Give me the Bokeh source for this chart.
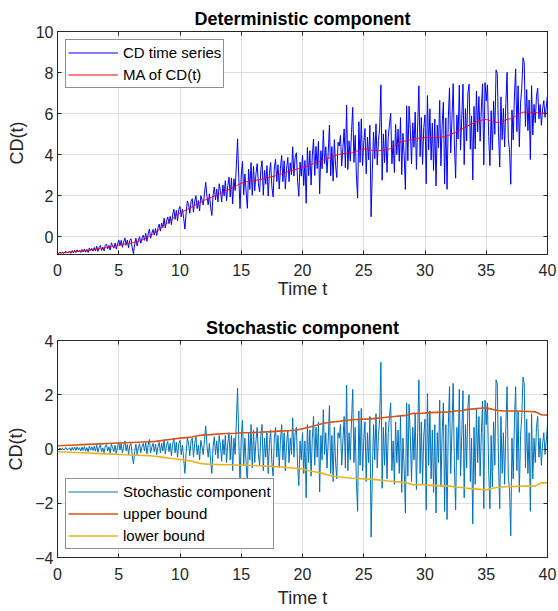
import numpy as np
from bokeh.plotting import figure
from bokeh.models import FixedTicker, LinearAxis, Legend, LegendItem, Range1d, CustomJSTickFormatter
from bokeh.layouts import column
from bokeh.embed import file_html
from bokeh.resources import INLINE

# ---------------- data ----------------
x_ticks = [0, 5, 10, 15, 20, 25, 30, 35, 40]
y_ticks_top = [0, 2, 4, 6, 8, 10]
y_ticks_bottom = [-4, -2, 0, 2, 4]

# time axis t = 0.0 ... 40.0, step 0.1
t = np.round(np.arange(401) * 0.1, 1)

# moving average of CD(t), one row per time unit (t = k.0 ... k.9), then t = 40
ma_rows = [
    [-0.80, -0.80, -0.79, -0.79, -0.78, -0.78, -0.77, -0.77, -0.76, -0.76],
    [-0.75, -0.75, -0.74, -0.74, -0.73, -0.73, -0.72, -0.72, -0.71, -0.70],
    [-0.70, -0.69, -0.69, -0.68, -0.67, -0.67, -0.66, -0.65, -0.65, -0.64],
    [-0.63, -0.62, -0.61, -0.60, -0.59, -0.58, -0.57, -0.56, -0.55, -0.54],
    [-0.53, -0.52, -0.51, -0.50, -0.49, -0.48, -0.46, -0.45, -0.44, -0.42],
    [-0.41, -0.40, -0.39, -0.38, -0.37, -0.36, -0.35, -0.34, -0.33, -0.32],
    [-0.31, -0.30, -0.28, -0.27, -0.25, -0.24, -0.22, -0.20, -0.18, -0.16],
    [-0.14, -0.11, -0.08, -0.05, -0.02, 0.02, 0.06, 0.10, 0.14, 0.18],
    [0.22, 0.27, 0.31, 0.36, 0.41, 0.46, 0.51, 0.55, 0.60, 0.64],
    [0.68, 0.73, 0.78, 0.83, 0.88, 0.93, 0.98, 1.03, 1.07, 1.11],
    [1.15, 1.18, 1.21, 1.24, 1.27, 1.30, 1.33, 1.36, 1.39, 1.42],
    [1.45, 1.49, 1.52, 1.55, 1.58, 1.62, 1.65, 1.68, 1.71, 1.75],
    [1.78, 1.80, 1.83, 1.85, 1.88, 1.90, 1.93, 1.95, 1.97, 2.00],
    [2.02, 2.05, 2.08, 2.11, 2.14, 2.17, 2.20, 2.23, 2.25, 2.28],
    [2.30, 2.33, 2.36, 2.39, 2.42, 2.45, 2.48, 2.52, 2.55, 2.57],
    [2.60, 2.62, 2.64, 2.65, 2.67, 2.68, 2.69, 2.70, 2.71, 2.72],
    [2.73, 2.74, 2.75, 2.76, 2.77, 2.78, 2.79, 2.80, 2.82, 2.83],
    [2.85, 2.86, 2.88, 2.89, 2.91, 2.92, 2.94, 2.95, 2.97, 2.98],
    [3.00, 3.02, 3.04, 3.06, 3.08, 3.10, 3.12, 3.14, 3.16, 3.18],
    [3.20, 3.22, 3.23, 3.25, 3.27, 3.29, 3.30, 3.32, 3.34, 3.35],
    [3.37, 3.39, 3.41, 3.43, 3.45, 3.47, 3.49, 3.52, 3.54, 3.56],
    [3.58, 3.60, 3.62, 3.64, 3.67, 3.69, 3.71, 3.73, 3.76, 3.78],
    [3.80, 3.82, 3.84, 3.87, 3.89, 3.91, 3.93, 3.96, 3.98, 4.00],
    [4.02, 4.03, 4.04, 4.05, 4.05, 4.06, 4.06, 4.07, 4.07, 4.08],
    [4.08, 4.10, 4.12, 4.14, 4.16, 4.18, 4.20, 4.22, 4.24, 4.26],
    [4.28, 4.27, 4.26, 4.25, 4.24, 4.23, 4.22, 4.21, 4.20, 4.20],
    [4.20, 4.20, 4.19, 4.19, 4.20, 4.20, 4.21, 4.21, 4.22, 4.23],
    [4.25, 4.28, 4.31, 4.35, 4.39, 4.43, 4.47, 4.50, 4.54, 4.57],
    [4.60, 4.62, 4.63, 4.65, 4.66, 4.68, 4.70, 4.71, 4.73, 4.74],
    [4.75, 4.76, 4.77, 4.78, 4.79, 4.80, 4.80, 4.81, 4.82, 4.82],
    [4.83, 4.83, 4.83, 4.83, 4.83, 4.83, 4.83, 4.83, 4.83, 4.83],
    [4.83, 4.84, 4.84, 4.85, 4.85, 4.86, 4.87, 4.89, 4.91, 4.93],
    [4.95, 4.98, 5.01, 5.04, 5.07, 5.10, 5.13, 5.16, 5.19, 5.22],
    [5.25, 5.28, 5.31, 5.34, 5.37, 5.40, 5.43, 5.46, 5.49, 5.52],
    [5.55, 5.57, 5.59, 5.61, 5.63, 5.65, 5.67, 5.69, 5.70, 5.71],
    [5.72, 5.70, 5.68, 5.66, 5.64, 5.62, 5.60, 5.59, 5.58, 5.57],
    [5.57, 5.59, 5.61, 5.63, 5.65, 5.67, 5.69, 5.71, 5.73, 5.74],
    [5.75, 5.78, 5.82, 5.85, 5.88, 5.92, 5.95, 5.98, 6.01, 6.04],
    [6.07, 6.07, 6.07, 6.07, 6.07, 6.06, 6.06, 6.06, 6.06, 6.05],
    [6.05, 6.05, 6.04, 6.04, 6.04, 6.03, 6.03, 6.03, 6.02, 6.02],
]
ma_last = 6.02

# stochastic component (CD - MA), one row per time unit, then t = 40
stoch_rows = [
    [0.02, -0.03, 0.03, -0.02, 0.04, -0.04, 0.02, 0.05, -0.03, 0.01],
    [0.04, -0.06, 0.06, -0.04, 0.07, -0.05, 0.08, -0.03, 0.05, -0.07],
    [0.07, -0.05, 0.09, -0.08, 0.05, -0.10, 0.11, -0.04, 0.08, -0.06],
    [0.10, -0.08, 0.14, -0.12, 0.07, 0.15, -0.10, 0.04, -0.14, 0.12],
    [0.17, -0.07, 0.08, -0.15, 0.19, 0.04, -0.10, 0.14, -0.17, 0.07],
    [0.25, -0.04, 0.21, -0.14, 0.10, 0.30, -0.07, 0.17, -0.21, 0.14],
    [0.21, -0.25, -0.55, -0.10, 0.18, -0.21, 0.04, 0.20, -0.14, 0.10],
    [0.21, -0.07, 0.25, -0.18, 0.14, 0.35, -0.14, 0.07, 0.21, -0.10],
    [0.18, -0.21, 0.10, 0.25, -0.14, 0.21, -0.07, 0.35, -0.18, 0.14],
    [0.28, -0.10, 0.21, -0.25, 0.18, 0.40, -0.14, 0.25, -0.30, 0.21],
    [0.32, -0.21, 0.14, -0.35, -0.90, -0.14, 0.40, 0.21, -0.25, 0.30],
    [0.40, -0.30, 0.21, 0.45, -0.21, 0.14, -0.40, 0.32, 0.07, -0.21],
    [0.35, 0.85, 0.14, -0.30, 0.21, -0.45, -0.90, 0.07, 0.45, -0.21],
    [0.30, -0.35, 0.50, 0.14, -0.45, 0.35, -0.21, 0.50, -0.50, 0.21],
    [0.60, -0.40, 0.50, -0.80, 0.40, -0.20, 1.00, 2.25, 0.30, -1.20],
    [0.40, 1.05, -0.60, 0.40, -0.50, -1.30, 0.60, -0.40, 0.90, -0.70],
    [0.70, -0.50, 0.30, 0.80, -0.20, -0.60, 0.50, 0.90, -0.80, 0.40],
    [-0.30, 0.60, -0.90, 0.20, 0.70, -0.50, -1.00, 0.40, 0.80, -0.30],
    [0.50, -0.70, 0.30, 0.90, -0.40, 0.60, -0.80, 0.20, 0.70, -0.50],
    [0.40, -0.20, 1.15, -0.30, 0.60, 0.80, -0.60, -1.35, 0.30, -0.40],
    [0.60, -0.90, 0.30, -1.80, 0.90, -0.50, 0.70, -1.00, 0.40, 1.20],
    [-0.60, 0.80, -0.30, 1.00, -1.58, 0.50, -0.40, 1.45, -0.20, 0.60],
    [-0.70, 0.30, 1.60, -0.90, 0.50, -1.20, 0.80, -0.50, -1.10, 0.60],
    [0.40, 0.90, -0.60, 0.30, 1.20, -0.70, 2.36, -0.80, 0.60, -0.40],
    [1.00, 2.20, -0.50, 0.80, -1.20, -2.30, 1.40, -0.60, 1.50, -0.80],
    [0.30, 1.00, -1.20, 0.60, -0.50, 1.20, -3.25, -1.00, 0.90, -0.40],
    [1.30, -0.70, 0.50, 1.10, 3.20, -1.45, 0.80, -0.60, 1.00, -1.10],
    [0.60, 1.20, 1.70, -0.80, 0.30, -1.30, 1.00, -0.50, 0.70, -0.90],
    [1.20, -1.60, 0.40, -0.70, -2.36, 1.70, -1.00, 1.65, 0.50, -1.20],
    [0.80, -0.40, 1.30, -1.50, 0.60, 2.55, -0.90, 1.00, -1.30, 0.50],
    [1.10, -2.25, 2.05, -0.60, 1.40, -1.10, 0.70, -1.60, 0.90, -2.36],
    [0.60, -0.50, 1.80, -1.40, 0.60, 1.70, -2.30, 0.90, -2.60, 0.80],
    [2.30, -0.90, 0.70, 2.42, -0.60, -2.25, 0.80, -0.40, 2.20, -1.00],
    [0.50, 2.15, -1.80, 0.90, -0.70, 1.60, 2.00, -1.20, 0.40, -2.76],
    [0.80, -1.30, 1.50, -0.50, 1.20, -1.00, 0.60, 1.76, -2.20, 1.80],
    [0.90, 1.70, -0.80, -2.20, 0.50, -1.40, 1.00, -0.60, 2.55, 2.40],
    [-0.50, -2.20, 1.20, -0.90, 0.60, -1.30, 0.80, 2.30, -1.00, -1.50],
    [-3.20, 0.40, -1.10, 1.00, 2.30, -0.80, 1.40, -1.60, 0.50, 1.20],
    [2.65, 2.40, -0.70, 1.10, -0.90, 0.60, -2.30, 1.30, -1.10, 0.40],
    [-0.50, 0.80, 1.20, -0.30, 0.40, -0.60, 0.20, 0.60, -0.20, 0.30],
]
stoch_last = 0.90

# confidence bounds, t = 0.0 ... 40.0, step 0.5
t_bound = np.round(np.arange(81) * 0.5, 1)
upper_bound = [
    0.12, 0.13, 0.14, 0.15, 0.16, 0.17, 0.18, 0.19, 0.20, 0.21,
    0.22, 0.23, 0.24, 0.25, 0.26, 0.27, 0.28, 0.31, 0.34, 0.37,
    0.40, 0.42, 0.44, 0.50, 0.52, 0.53, 0.55, 0.56, 0.57, 0.58,
    0.60, 0.60, 0.61, 0.62, 0.63, 0.64, 0.66, 0.67, 0.68, 0.70,
    0.75, 0.80, 0.86, 0.92, 0.97, 1.00, 1.02, 1.05, 1.08, 1.09,
    1.10, 1.11, 1.13, 1.15, 1.18, 1.20, 1.22, 1.24, 1.32, 1.31,
    1.33, 1.34, 1.35, 1.36, 1.37, 1.40, 1.42, 1.46, 1.48, 1.50,
    1.52, 1.46, 1.42, 1.40, 1.40, 1.40, 1.39, 1.38, 1.37, 1.26,
    1.25,
]
lower_bound = [
    -0.10, -0.11, -0.12, -0.13, -0.14, -0.15, -0.16, -0.17, -0.18, -0.19,
    -0.20, -0.21, -0.22, -0.23, -0.24, -0.25, -0.27, -0.30, -0.33, -0.36,
    -0.39, -0.42, -0.45, -0.52, -0.55, -0.56, -0.57, -0.58, -0.58, -0.59,
    -0.60, -0.60, -0.61, -0.62, -0.63, -0.64, -0.66, -0.67, -0.69, -0.71,
    -0.74, -0.80, -0.84, -0.88, -0.95, -1.00, -1.03, -1.05, -1.08, -1.09,
    -1.10, -1.11, -1.13, -1.15, -1.18, -1.20, -1.22, -1.24, -1.32, -1.31,
    -1.33, -1.34, -1.35, -1.36, -1.37, -1.40, -1.42, -1.45, -1.47, -1.49,
    -1.51, -1.45, -1.41, -1.39, -1.38, -1.38, -1.37, -1.37, -1.36, -1.25,
    -1.25,
]

ma = np.array([v for row in ma_rows for v in row] + [ma_last])
stoch = np.array([v for row in stoch_rows for v in row] + [stoch_last])
cd = ma + stoch

# ---------------- styling ----------------
FONT = "Liberation Sans"
AX = "#262626"
GRID = "#DEDEDE"


def style(p, yticks, title, tick_standoff, label_standoff):
    p.title.text = title
    p.title.align = "center"
    p.title.text_font = FONT
    p.title.text_font_size = "18px"
    p.title.text_font_style = "bold"
    p.title.text_color = "#000000"
    p.title.standoff = 6
    p.outline_line_color = AX
    p.outline_line_width = 1
    p.outline_line_alpha = 1.0
    p.xaxis.ticker = FixedTicker(ticks=x_ticks)
    p.yaxis.ticker = FixedTicker(ticks=yticks)
    for ax in (p.xaxis[0], p.yaxis[0]):
        ax.axis_line_color = AX
        ax.major_tick_line_color = AX
        ax.major_tick_in = 4
        ax.major_tick_out = 0
        ax.minor_tick_line_color = None
        ax.major_label_text_font = FONT
        ax.major_label_text_font_size = "16px"
        ax.major_label_text_color = AX
        ax.axis_label_text_font = FONT
        ax.axis_label_text_font_size = "18px"
        ax.axis_label_text_font_style = "normal"
        ax.axis_label_text_color = AX
    p.xaxis.axis_label = "Time t"
    p.yaxis.axis_label = "CD(t)"
    p.xaxis.major_label_standoff = tick_standoff
    p.xaxis.axis_label_standoff = label_standoff
    p.yaxis.major_label_standoff = 4
    p.yaxis.axis_label_standoff = 6
    p.xgrid.ticker = FixedTicker(ticks=x_ticks)
    p.ygrid.ticker = FixedTicker(ticks=yticks)
    p.grid.grid_line_color = GRID
    p.grid.grid_line_width = 1
    # box ticks on top and right, as in the reference (no labels there)
    blank = CustomJSTickFormatter(code="return '';")
    top = LinearAxis(ticker=FixedTicker(ticks=x_ticks), formatter=blank,
                     major_label_text_font_size="1px", major_label_standoff=0,
                     major_tick_in=4, major_tick_out=0,
                     minor_tick_line_color=None, axis_line_color=AX, major_tick_line_color=AX)
    right = LinearAxis(ticker=FixedTicker(ticks=yticks), formatter=blank,
                       major_label_text_font_size="1px", major_label_standoff=0,
                       major_tick_in=4, major_tick_out=0,
                       minor_tick_line_color=None, axis_line_color=AX, major_tick_line_color=AX)
    p.add_layout(top, "above")
    p.add_layout(right, "right")


def make_legend(items, location):
    lg = Legend(items=items, location=location)
    lg.label_text_font = FONT
    lg.label_text_font_size = "15px"
    lg.label_text_color = "#000000"
    lg.border_line_color = AX
    lg.border_line_width = 1
    lg.background_fill_color = "white"
    lg.background_fill_alpha = 1.0
    lg.glyph_width = 50
    lg.glyph_height = 21
    lg.label_height = 21
    lg.label_standoff = 5
    lg.spacing = 1
    lg.padding = 2
    lg.margin = 8
    return lg


# ---------------- top: deterministic component ----------------
p1 = figure(width=558, height=305, output_backend="svg", toolbar_location=None,
            x_range=Range1d(0, 40), y_range=Range1d(-0.87, 10),
            min_border_left=57, min_border_right=11, min_border_top=31, min_border_bottom=51)
style(p1, y_ticks_top, "Deterministic component", 9, 0)
r_cd = p1.line(t, cd, line_color="#0000FF", line_width=1)
r_ma = p1.line(t, ma, line_color="#FF0000", line_width=1)
p1.add_layout(make_legend([LegendItem(label="CD time series", renderers=[r_cd]),
                           LegendItem(label="MA of CD(t)", renderers=[r_ma])], "top_left"))

# ---------------- bottom: stochastic component ----------------
p2 = figure(width=558, height=306, output_backend="svg", toolbar_location=None,
            x_range=Range1d(0, 40), y_range=Range1d(-4, 4),
            min_border_left=57, min_border_right=11, min_border_top=35, min_border_bottom=54)
style(p2, y_ticks_bottom, "Stochastic component", 10, 5)
r_st = p2.line(t, stoch, line_color="#0072BD", line_width=1)
r_up = p2.line(t_bound, upper_bound, line_color="#D95319", line_width=1.6)
r_lo = p2.line(t_bound, lower_bound, line_color="#EDB120", line_width=1.6)
p2.add_layout(make_legend([LegendItem(label="Stochastic component", renderers=[r_st]),
                           LegendItem(label="upper bound", renderers=[r_up]),
                           LegendItem(label="lower bound", renderers=[r_lo])], "bottom_left"))

layout = column(p1, p2, spacing=0)
open("out.html", "w").write(file_html(layout, INLINE))
